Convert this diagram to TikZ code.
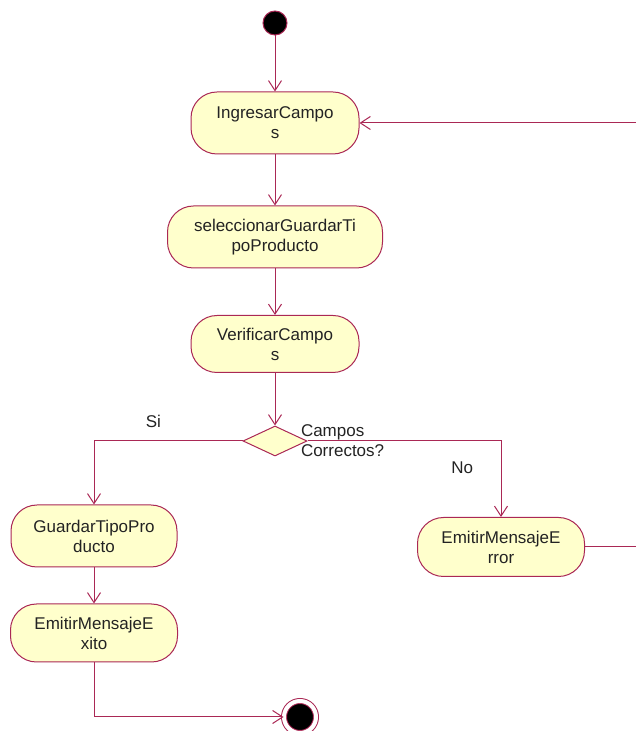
\documentclass[tikz,border=0pt]{standalone}
\usepackage{fontspec}
\setmainfont{Liberation Sans}
\usetikzlibrary{arrows.meta,positioning,shapes.geometric}
\definecolor{rosewire}{RGB}{170,40,85}
\definecolor{actfill}{RGB}{255,255,204}
\definecolor{ink}{RGB}{35,35,35}

\begin{document}
\begin{tikzpicture}[
		x=1pt, y=1pt,
		->,
		>={Straight Barb[length=10pt,width=13pt]},
		line width=1pt,
		act/.style={rectangle,rounded corners=26pt,draw=rosewire,fill=actfill,text=ink,align=center,inner sep=2pt,minimum height=62pt,font=\fontsize{17}{20}\selectfont},
		decision/.style={diamond,inner sep=0pt,minimum width=64pt,minimum height=30pt,draw=rosewire,fill=actfill},
		startdot/.style={circle,inner sep=0pt,minimum size=24pt,fill=black,draw=rosewire},
		enddot/.style={circle,inner sep=0pt,minimum size=32pt,fill=black,draw=rosewire,double=white,double distance=4pt},
		lbl/.style={text=ink,font=\fontsize{17}{20}\selectfont}]

	\useasboundingbox (0,0) rectangle (635,731);

	\node[startdot] (start) at (275,708) {};
	
	\node[act, minimum width=168pt, node distance=100pt, below of=start] (ing) {IngresarCampo\\s};
	\node[act, minimum width=215pt, node distance=114pt, below of=ing] (sel) {seleccionarGuardarTi\\poProducto};
	\node[act, minimum width=168pt, minimum height=57pt, node distance=107pt, below of=sel] (ver) {VerificarCampo\\s};
	
	\node[decision, node distance=97pt, below of=ver] (dec) {};
	\node[lbl, align=left, inner sep=0pt, right=-7pt of dec.east] (cond) {Campos\\Correctos?};
	
	\node[act, minimum width=166pt, node distance=95pt, below of=dec, xshift=-181pt] (gua) {GuardarTipoPro\\ducto};
	\node[act, minimum width=167pt, minimum height=58pt, node distance=97pt, below of=gua] (exi) {EmitirMensajeE\\xito};
	
	\node[act, minimum width=167pt, minimum height=59pt, node distance=106pt, below of=dec, xshift=226pt] (err) {EmitirMensajeE\\rror};
	
	\node[enddot] (fin) at (300,14) {};
	
	\coordinate (back) at (645,608);

	\path[rosewire]
		(start) edge (ing)
		(ing) edge (sel)
		(sel) edge (ver)
		(ver) edge (dec)
		(gua) edge (exi)
	;
	\draw[rosewire] (dec.west) -| node[lbl, pos=0.3, above=9pt] {Si} (gua.north);
	\draw[rosewire] (dec.east) -| node[lbl, pos=0.4, below=17pt] {No} (err.north);
	\draw[rosewire] (exi.south) |- (fin);
	\draw[rosewire] (err.east) -| (back) -- (ing.east);
\end{tikzpicture}
\end{document}
